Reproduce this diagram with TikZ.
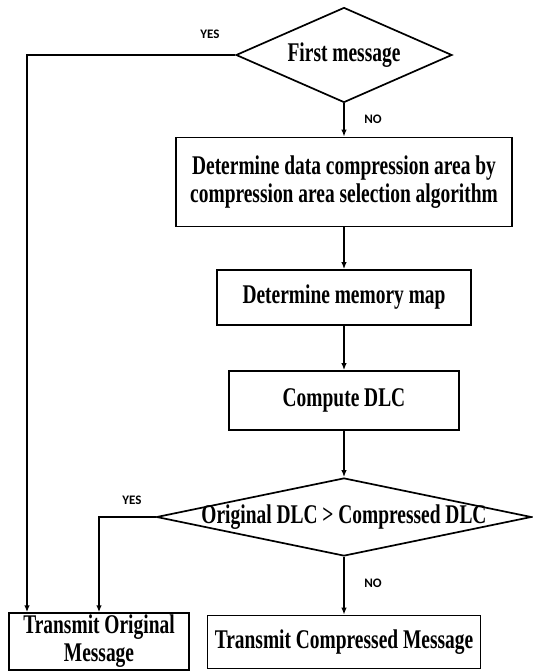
\documentclass[tikz,border=0pt]{standalone}
\usepackage{fontspec}
\setmainfont{Liberation Serif}[FakeStretch=0.72]
\newfontfamily\tagfont{Carlito}
\usetikzlibrary{shapes.geometric,arrows.meta}

\begin{document}
\begin{tikzpicture}[x=1pt, y=-1pt,
    box/.style={draw, line width=1.7pt, align=center, inner sep=2pt,
      font=\fontsize{27}{28}\selectfont\bfseries},
    decision/.style={draw, diamond, line width=1.7pt, inner xsep=-40pt, inner ysep=0pt,
      font=\fontsize{27}{28}\selectfont\bfseries},
    flow/.style={line width=1.6pt, -{Latex[length=7pt,width=5.5pt]}},
    tag/.style={font=\tagfont\bfseries\fontsize{13}{15}\selectfont}]
  \useasboundingbox (0,0) rectangle (532,671);

  % Decisions
  \node[decision, aspect=2.27, minimum width=216pt, minimum height=95pt] (first) at (344,55) {First message};
  \node[decision, aspect=4.8, minimum width=375pt, minimum height=78pt] (cmp) at (344,517)
    {Original DLC > Compressed DLC};

  % Process boxes
  \node[box, minimum width=336pt, minimum height=89pt] (area) at (344,182)
    {Determine data compression area by\\compression area selection algorithm};
  \node[box, minimum width=254pt, minimum height=55pt] (memory) at (344,297.5) {Determine memory map};
  \node[box, minimum width=230pt, minimum height=59pt] (dlc) at (344,400.5) {Compute DLC};
  \node[box, minimum width=180pt, minimum height=55pt] (orig) at (99,641.5)
    {Transmit Original\\Message};
  \node[box, minimum width=273pt, minimum height=53pt] (compressed) at (344,642)
    {Transmit Compressed Message};

  % Branch labels
  \node[tag] (yes1) at (210,34) {YES};
  \node[tag] (no1) at (373,119) {NO};
  \node[tag] (yes2) at (132,500) {YES};
  \node[tag] (no2) at (373,583) {NO};

  % Connectors
  \coordinate (skip) at (27,0);
  \draw[flow] (first.south) -- (area.north);
  \draw[flow] (area.south) -- (memory.north);
  \draw[flow] (memory.south) -- (dlc.north);
  \draw[flow] (dlc.south) -- (cmp.north);
  \draw[flow] (cmp.south) -- (compressed.north);
  \draw[flow] (first.west) -| (skip |- orig.north);
  \draw[flow] (cmp.west) -| (orig.north);
\end{tikzpicture}
\end{document}
